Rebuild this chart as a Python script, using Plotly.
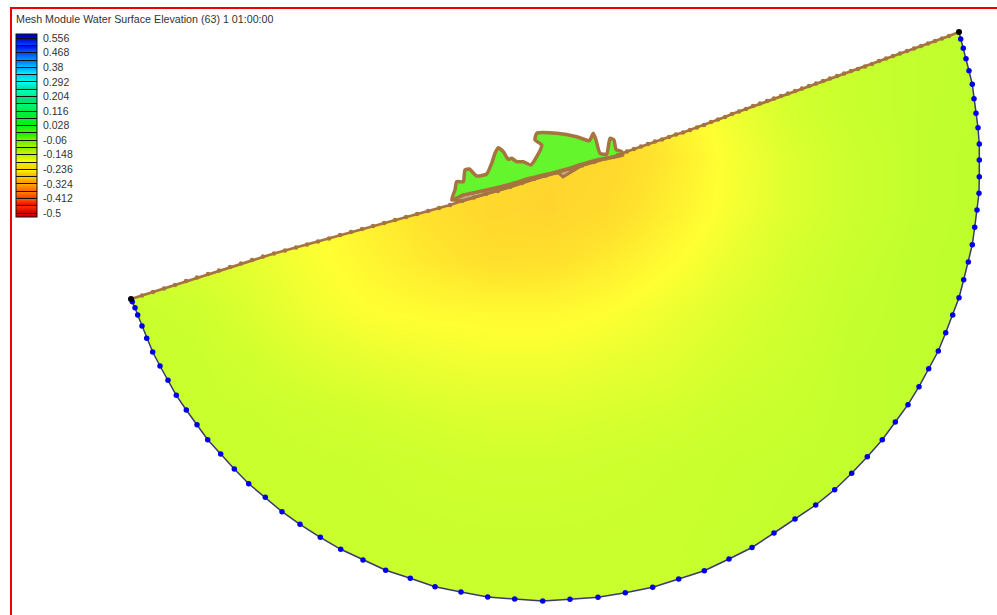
import plotly.graph_objects as go

TITLE = "Mesh Module Water Surface Elevation (63) 1 01:00:00"

# Legend
legend_ticks = [0.556, 0.512, 0.468, 0.424, 0.38, 0.336, 0.292, 0.248, 0.204, 0.16, 0.116, 0.072, 0.028,
                -0.016, -0.06, -0.104, -0.148, -0.192, -0.236, -0.28, -0.324, -0.368, -0.412, -0.456, -0.5]
legend_labels = ["0.556", "", "0.468", "", "0.38", "", "0.292", "", "0.204", "", "0.116", "", "0.028", "",
                 "-0.06", "", "-0.148", "", "-0.236", "", "-0.324", "", "-0.412", "", "-0.5"]
legend_max = 0.581
legend_min = -0.524
legend_colors = ["#0000be", "#0000e6", "#0046ff", "#0064ff", "#0096ff", "#00c8ff", "#00ffff", "#00ffd2",
                 "#00dc96", "#00f082", "#00eb50", "#00f03c", "#00f01e", "#0af000", "#5af000", "#82f000",
                 "#b4f000", "#dcf000", "#ffff00", "#ffd200", "#ffaa00", "#ff8c00", "#ff6400", "#ff3200",
                 "#e60000", "#c80000"]

# Colours of the shaded surface against elevation
field_stops = [-0.5, -0.33, -0.27, -0.235, -0.19, -0.125, -0.03, 0.03, 0.3, 0.556]
field_colors = ["#ff2020", "#ff9628", "#ffd42d", "#ffe22d", "#ffff32", "#c8ff2d", "#64f52d", "#20f030",
                "#20ffff", "#2020ff"]

# Elevation samples across the domain
grid_x = [130, 190, 250, 310, 370, 430, 490, 550, 610, 670, 730, 790, 850, 910, 980]
grid_y = [30, 60, 110, 160, 210, 260, 310, 360, 410, 460, 510, 560, 610]
z_rows = [
    [-.16, -.16, -.17, -.18, -.2, -.22, -.23, -.23, -.22, -.2, -.17, -.14, -.125, -.12, -.118],
    [-.16, -.16, -.17, -.18, -.2, -.22, -.23, -.24, -.23, -.2, -.17, -.14, -.125, -.12, -.118],
    [-.16, -.16, -.17, -.18, -.2, -.22, -.24, -.25, -.25, -.215, -.172, -.14, -.125, -.12, -.117],
    [-.16, -.16, -.17, -.18, -.2, -.23, -.255, -.265, -.26, -.225, -.183, -.15, -.13, -.12, -.115],
    [-.16, -.16, -.17, -.19, -.215, -.24, -.262, -.268, -.25, -.215, -.18, -.15, -.13, -.12, -.115],
    [-.135, -.145, -.16, -.182, -.205, -.226, -.242, -.24, -.22, -.195, -.165, -.14, -.125, -.118, -.115],
    [-.125, -.13, -.148, -.172, -.19, -.196, -.2, -.2, -.19, -.17, -.15, -.135, -.122, -.118, -.115],
    [-.125, -.125, -.135, -.15, -.162, -.17, -.175, -.175, -.165, -.155, -.14, -.13, -.12, -.118, -.115],
    [-.125, -.125, -.127, -.132, -.138, -.146, -.15, -.15, -.145, -.14, -.13, -.125, -.12, -.118, -.115],
    [-.125, -.125, -.125, -.126, -.128, -.132, -.135, -.135, -.132, -.128, -.124, -.122, -.12, -.118, -.115],
    [-.125, -.125, -.125, -.125, -.126, -.128, -.129, -.129, -.128, -.126, -.123, -.121, -.12, -.118, -.115],
    [-.125, -.125, -.125, -.125, -.125, -.126, -.126, -.126, -.126, -.125, -.122, -.12, -.12, -.118, -.115],
    [-.125, -.125, -.125, -.125, -.125, -.126, -.126, -.126, -.126, -.125, -.122, -.12, -.12, -.118, -.115],
]

# Open-ocean boundary nodes, west to east
arc_x = [131, 132.3, 135, 137.7, 142, 146.7, 152.7, 160, 168, 176.3, 186.3, 197, 207.7, 220.7, 234.3, 248.7,
         265.3, 282, 300, 320.3, 340.7, 363, 385.7, 410.3, 435, 461, 487.7, 514.7, 542.7, 570, 598, 625.3,
         652.7, 678.7, 704.3, 729, 752, 774, 795, 815.7, 834.7, 851.7, 867.3, 882.3, 895.3, 908, 919, 928.7,
         938.3, 945.7, 952.7, 959, 963.7, 968.3, 972.3, 974.7, 977, 979, 979.3, 979.3, 979.3, 978, 976, 974,
         972.3, 969, 966, 963.3, 960.7, 959]
arc_y = [299, 301.7, 307.7, 315, 326, 338.3, 352, 366, 380.3, 395.3, 410, 424.7, 439.7, 454, 469, 483.7,
         497.3, 511.7, 524.3, 537.3, 549.3, 560, 570.3, 578.3, 586.7, 592, 597, 599, 601, 599.3, 597.3, 592.7,
         587.3, 579, 570.7, 559, 547.5, 533, 519, 505, 489.7, 473.3, 456.7, 439.7, 422, 404.7, 386.7, 368.7,
         351, 332.7, 315, 297.7, 279.7, 262, 244.7, 227.3, 210, 193.3, 176.7, 160, 144, 127.7, 113.3, 98.7,
         84.3, 70.7, 58.7, 48.3, 39, 32]

# Coastline nodes, west to east
coast_x = [131, 142, 153, 164, 175, 186, 197, 208, 219, 230, 241, 252, 263, 274, 285, 296, 307, 318, 329, 340,
           351, 362, 373, 384, 395, 406, 417, 428, 439, 450, 462, 474, 486, 498, 510, 522, 534, 546, 558, 570,
           582, 594, 606, 618, 627, 634, 641, 648, 655, 662, 669, 676, 683, 690, 697, 704, 711, 718, 725, 732,
           739, 746, 753, 760, 767, 774, 781, 788, 795, 802, 809, 816, 823, 830, 837, 844, 851, 858, 865, 872,
           879, 886, 893, 900, 907, 914, 921, 928, 935, 942, 949, 959]
coast_y = [299, 295.5, 292, 288.5, 285, 281, 277.5, 274, 270.5, 267, 263.5, 260, 256.5, 253.5, 250.5, 247.5,
           244.5, 241.5, 238.5, 235, 232, 229, 226, 223, 220, 217, 214, 211, 208, 205, 201, 197.5, 194, 191,
           187, 183, 179, 175.5, 172.5, 169, 165.5, 162, 158.5, 155, 151.5, 149, 146.5, 144, 141.5, 139.5, 137,
           134.5, 132.5, 130, 127.5, 125, 122, 119.5, 117, 114, 111.5, 109, 106, 103.5, 101, 98.5, 96, 93.5, 91,
           88.5, 86, 83.5, 81, 78.5, 76, 73.5, 71, 69, 66.5, 64, 61, 58.5, 56, 53.5, 51, 48.5, 46, 43.5, 41,
           38.5, 36, 32]

# Back-barrier lagoon outline
lagoon_x = [451.7, 455, 456.7, 463.3, 465, 469.3, 476.7, 486.7, 491.7, 495, 498.3, 503.3, 508.3, 511.7, 516.7,
            523.3, 530.7, 536.7, 541.7, 535, 536.7, 556.7, 576.7, 589.3, 593.3, 596, 600, 606.7, 610, 614, 616,
            621.7, 622.7, 596.7, 563.3, 553.3, 530, 513.3, 486.7, 463.3, 451.7]
lagoon_y = [200, 190, 181.7, 181.7, 170, 169, 176, 174, 163.3, 153.3, 147.7, 151.7, 159.3, 158.3, 161.7, 161.7,
            165, 156.7, 145, 140, 133.3, 133.3, 136.7, 140.7, 133.3, 140, 153.3, 154, 138.3, 140, 149.3, 151.7,
            155, 160, 170, 172.7, 178.3, 183.3, 190, 195, 200]

# Barrier strip between lagoon and coast
barrier_x = [451.7, 463.3, 486.7, 513.3, 530, 553.3, 563.3, 596.7, 622.7, 606, 582, 563, 558, 534, 510, 486, 462, 451.7]
barrier_y = [200, 195, 190, 183.3, 178.3, 172.7, 170, 160, 155, 158.5, 165.5, 177, 172.5, 179, 187, 194, 201, 200]

# Colour scales built from the lists above
span = legend_max - legend_min
edges = [legend_max] + [t for t in legend_ticks] + [legend_min]
legend_scale = []
for i, col in enumerate(legend_colors):
    hi = (edges[i] - legend_min) / span
    lo = (edges[i + 1] - legend_min) / span
    legend_scale.append([lo, col])
    legend_scale.append([hi, col])
legend_scale = sorted(legend_scale, key=lambda p: p[0])
fspan = field_stops[-1] - field_stops[0]
field_scale = [[(v - field_stops[0]) / fspan, c] for v, c in zip(field_stops, field_colors)]

PAGE_W, PAGE_H = 997, 615
fig = go.Figure()

fig.add_trace(go.Heatmap(x=grid_x, y=grid_y, z=z_rows, zsmooth="best", colorscale=field_scale,
                         zmin=field_stops[0], zmax=field_stops[-1], showscale=False, hoverinfo="skip"))

# White surround that trims the surface to the domain outline
mask_x = coast_x + arc_x[::-1] + [95, 95, 1015, 1015, 95, 95, 131]
mask_y = coast_y + arc_y[::-1] + [299, 650, 650, 0, 0, 299, 299]
fig.add_trace(go.Scatter(x=mask_x, y=mask_y, mode="lines", fill="toself", fillcolor="white",
                         line=dict(width=0), hoverinfo="skip"))

BROWN = "#a6743f"
fig.add_trace(go.Scatter(x=barrier_x, y=barrier_y, mode="lines", fill="toself", fillcolor="#c8a888",
                         line=dict(color=BROWN, width=3), hoverinfo="skip"))
fig.add_trace(go.Scatter(x=lagoon_x, y=lagoon_y, mode="lines", fill="toself", fillcolor="#64f52d",
                         line=dict(color=BROWN, width=3.5, shape="spline", smoothing=0.5), hoverinfo="skip"))
fig.add_trace(go.Scatter(x=coast_x, y=coast_y, mode="lines+markers", line=dict(color=BROWN, width=2.8),
                         marker=dict(color=BROWN, size=4.5), hoverinfo="skip"))
fig.add_trace(go.Scatter(x=arc_x, y=arc_y, mode="lines", line=dict(color="#3a3a70", width=1.5), hoverinfo="skip"))
fig.add_trace(go.Scatter(x=arc_x[1:-1], y=arc_y[1:-1], mode="markers",
                         marker=dict(color="#0000e6", size=5.5), hoverinfo="skip"))
fig.add_trace(go.Scatter(x=[arc_x[0], arc_x[-1]], y=[arc_y[0], arc_y[-1]], mode="markers",
                         marker=dict(color="black", size=6), hoverinfo="skip"))

# Legend: a leading no-break space sets the gap between swatches and labels
padded_labels = ["\u00a0" + s if s else "" for s in legend_labels]
fig.add_trace(go.Scatter(
    x=[None], y=[None], mode="markers", hoverinfo="skip",
    marker=dict(color=[0], cmin=legend_min, cmax=legend_max, colorscale=legend_scale, showscale=True,
                colorbar=dict(x=16 / PAGE_W, xanchor="left", xpad=0, y=1 - 34 / PAGE_H, yanchor="top", ypad=0,
                              thickness=21, thicknessmode="pixels", len=183, lenmode="pixels",
                              tickmode="array", tickvals=legend_ticks, ticktext=padded_labels,
                              ticks="inside", ticklen=21, tickwidth=1, tickcolor="#101010",
                              outlinecolor="#101010", outlinewidth=1, borderwidth=0,
                              tickfont=dict(family="Liberation Sans", size=10.5, color="#333333"))),
))

fig.update_layout(
    width=PAGE_W, height=PAGE_H, margin=dict(l=0, r=0, t=0, b=0), showlegend=False,
    paper_bgcolor="white", plot_bgcolor="white",
    xaxis=dict(range=[0, PAGE_W], visible=False),
    yaxis=dict(range=[PAGE_H, 0], visible=False),
    annotations=[dict(text=TITLE, xref="paper", yref="paper", x=14 / PAGE_W, y=1 - 19 / PAGE_H,
                      xanchor="left", yanchor="middle", showarrow=False,
                      font=dict(family="Liberation Sans", size=10.7, color="#333333"))],
    shapes=[
        dict(type="line", xref="paper", yref="paper", x0=11 / PAGE_W, x1=1, y0=1 - 8 / PAGE_H, y1=1 - 8 / PAGE_H,
             line=dict(color="#ee0000", width=2)),
        dict(type="line", xref="paper", yref="paper", x0=11 / PAGE_W, x1=11 / PAGE_W, y0=1 - 7 / PAGE_H, y1=0,
             line=dict(color="#ee0000", width=2)),
    ],
)

fig.write_html("out.html", config=dict(displayModeBar=False),
               post_script="document.body.style.margin='0';document.body.style.overflow='hidden';")
